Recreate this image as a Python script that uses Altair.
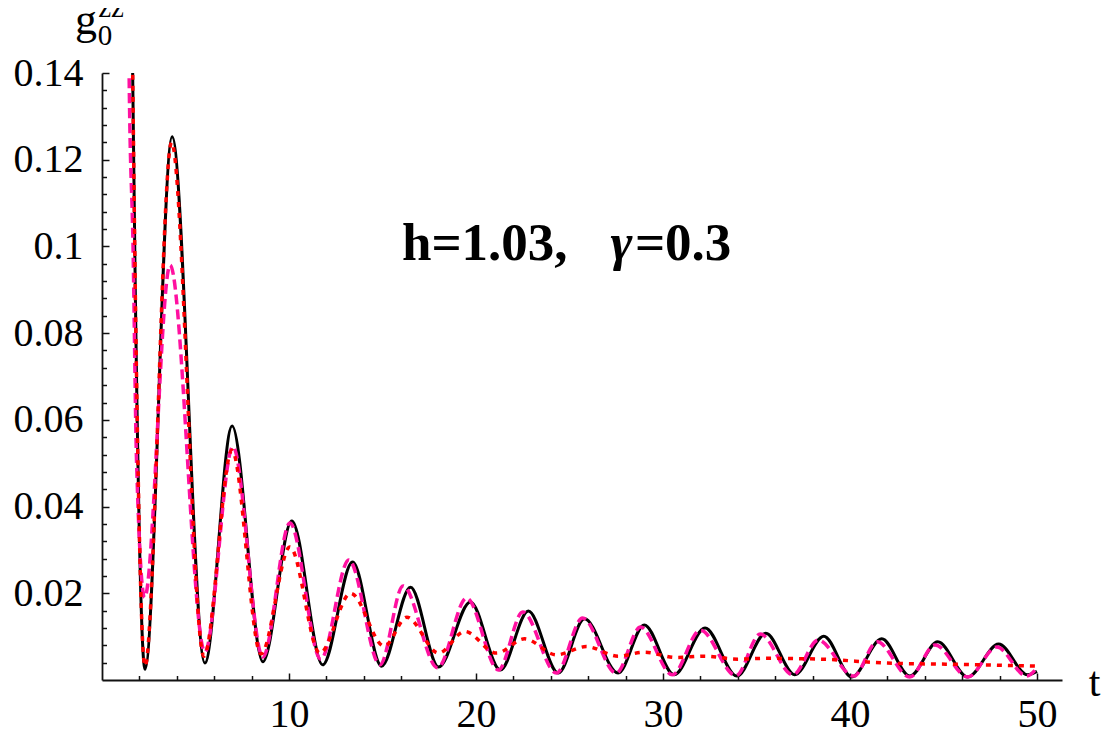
import altair as alt
import pandas as pd

# ---- data ----
# exact (black, solid)
t_exact = [1.55, 1.64, 1.78, 2.3, 3.75, 5.5, 6.96, 8.6, 10.15, 11.8, 13.4, 14.95, 16.5, 18.0,
           19.7, 21.3, 22.8, 24.4, 25.8, 27.6, 29.0, 30.6, 32.25, 33.95, 35.5, 37.05, 38.6,
           40.1, 41.7, 43.2, 44.7, 46.3, 47.95, 49.5, 50.0]
g_exact = [0.17, 0.14, 0.09, 0.0025, 0.1253, 0.0039, 0.0586, 0.0042, 0.0367, 0.0035, 0.0272,
           0.0032, 0.0214, 0.0030, 0.0180, 0.0023, 0.0159, 0.0016, 0.0141, 0.0016, 0.0127,
           0.0012, 0.0120, 0.0009, 0.0108, 0.0012, 0.0101, 0.0007, 0.0095, 0.0009, 0.0088,
           0.0007, 0.0083, 0.0012, 0.0020]

# approximation 1 (magenta, dashed)
t_dash = [1.4, 1.45, 1.66, 1.85, 2.28, 3.64, 5.5, 7.0, 8.6, 10.05, 11.7, 13.2, 14.87, 16.1,
          17.95, 19.5, 21.2, 22.5, 24.3, 25.7, 27.5, 28.8, 30.5, 32.0, 33.9, 35.2, 36.95,
          38.3, 40.2, 41.45, 43.2, 44.55, 46.3, 47.85, 49.45, 50.0]
g_dash = [0.17, 0.14, 0.10, 0.05, 0.019, 0.0957, 0.0065, 0.0538, 0.0053, 0.0362, 0.0048,
          0.0277, 0.0035, 0.0217, 0.0028, 0.0189, 0.0023, 0.0157, 0.0016, 0.0143, 0.0016,
          0.0122, 0.0012, 0.0115, 0.0010, 0.0106, 0.0012, 0.0092, 0.0009, 0.0088, 0.0007,
          0.0081, 0.0007, 0.0076, 0.0009, 0.0028]

# approximation 2 (red, dotted)
t_dot = [1.55, 1.64, 1.78, 2.3, 3.72, 5.45, 6.95, 8.5, 10.05, 11.65, 13.3, 15.1, 16.3, 18.0,
         19.4, 21.1, 22.6, 24.3, 25.9, 27.6, 29.0, 30.7, 32.2, 34.0, 35.5, 38.5, 42.0, 46.0,
         50.0]
g_dot = [0.17, 0.14, 0.09, 0.0032, 0.124, 0.0055, 0.053, 0.006, 0.0307, 0.0062, 0.0200,
         0.0078, 0.0145, 0.0062, 0.0112, 0.0062, 0.0095, 0.0058, 0.0077, 0.0055, 0.0064,
         0.0052, 0.0055, 0.0048, 0.0050, 0.0048, 0.0039, 0.0036, 0.0032]

x_ticks = [2, 4, 6, 8, 10, 12, 14, 16, 18, 20, 22, 24, 26, 28, 30, 32, 34, 36, 38, 40,
           42, 44, 46, 48, 50]
y_ticks = [0.004, 0.008, 0.012, 0.016, 0.02, 0.024, 0.028, 0.032, 0.036, 0.04, 0.044,
           0.048, 0.052, 0.056, 0.06, 0.064, 0.068, 0.072, 0.076, 0.08, 0.084, 0.088,
           0.092, 0.096, 0.1, 0.104, 0.108, 0.112, 0.116, 0.12, 0.124, 0.128, 0.132,
           0.136, 0.14]

x_domain = [0, 51.34]
y_domain = [0, 0.14]

PLOT_W, PLOT_H = 960, 607
FONT = "Liberation Serif"

df_exact = pd.DataFrame({"t": t_exact, "g": g_exact})
df_dash = pd.DataFrame({"t": t_dash, "g": g_dash})
df_dot = pd.DataFrame({"t": t_dot, "g": g_dot})

X_MAJOR = "datum.value % 10 == 0"
Y_MAJOR = "abs(datum.value * 50 - round(datum.value * 50)) < 0.001"

x_axis = alt.Axis(
    orient="top", offset=-PLOT_H, values=x_ticks,
    tickSize={"condition": {"test": X_MAJOR, "value": 7}, "value": 4.5},
    tickWidth=1.5, tickColor="#111", domainColor="#111", domainWidth=1.8, grid=False,
    labelExpr=X_MAJOR + " ? format(datum.value, 'd') : ''",
    labelPadding=-53, labelBaseline="alphabetic", labelFont=FONT, labelFontSize=40,
    labelColor="black", labelOverlap=False, labelFlush=False,
    title="t", titleFont=FONT, titleFontSize=42, titleFontWeight="normal",
    titleColor="black", titleX=992, titleY=15, titleAlign="center",
    titleBaseline="alphabetic", titleAnchor="start",
)
y_axis = alt.Axis(
    orient="right", offset=-PLOT_W, values=y_ticks,
    tickSize={"condition": {"test": Y_MAJOR, "value": 7}, "value": 4.5},
    tickWidth=1.5, tickColor="#111", domainColor="#111", domainWidth=1.8, grid=False,
    labelExpr=Y_MAJOR + " ? format(datum.value, '.2~f') : ''",
    labelPadding=-26, labelAlign="right", labelBaseline="middle", labelFont=FONT,
    labelFontSize=40, labelColor="black", labelOverlap=False, labelFlush=False,
    title=None,
)

x_enc = alt.X("t:Q", scale=alt.Scale(domain=x_domain, nice=False, zero=False), axis=x_axis)
y_enc = alt.Y("g:Q", scale=alt.Scale(domain=y_domain, nice=False, zero=False), axis=y_axis)

line_exact = alt.Chart(df_exact).mark_line(
    color="black", strokeWidth=3, interpolate="monotone", clip=True
).encode(x=x_enc, y=y_enc)

line_dash = alt.Chart(df_dash).mark_line(
    color="#ff10a0", strokeWidth=3.5, strokeDash=[10, 5], interpolate="monotone", clip=True
).encode(x=x_enc, y=y_enc)

line_dot = alt.Chart(df_dot).mark_line(
    color="#ff0000", strokeWidth=3.5, strokeDash=[5, 6], interpolate="monotone", clip=True
).encode(x=x_enc, y=y_enc)

# axis label g_0^zz anchored at the top of the y axis
df_ylab = pd.DataFrame({"t": [0], "g": [0.14]})
g_main = alt.Chart(df_ylab).mark_text(
    text="g", font=FONT, fontSize=44, color="black", align="center",
    baseline="alphabetic", dx=-16, dy=-39
).encode(x=x_enc, y=y_enc)
g_sub = alt.Chart(df_ylab).mark_text(
    text="0", font=FONT, fontSize=29, color="black", align="center",
    baseline="alphabetic", dx=3, dy=-28
).encode(x=x_enc, y=y_enc)
g_sup = alt.Chart(df_ylab).mark_text(
    text="zz", font=FONT, fontSize=29, color="black", align="center",
    baseline="alphabetic", dx=9, dy=-56
).encode(x=x_enc, y=y_enc)

# annotation h=1.03, gamma=0.3
df_a1 = pd.DataFrame({"t": [16.04], "g": [0.0969]})
df_a2 = pd.DataFrame({"t": [27.2], "g": [0.0969]})
df_a3 = pd.DataFrame({"t": [28.5], "g": [0.0969]})
ann1 = alt.Chart(df_a1).mark_text(
    text="h=1.03,", font=FONT, fontSize=53, fontWeight="bold", color="black",
    align="left", baseline="alphabetic"
).encode(x=x_enc, y=y_enc)
ann2 = alt.Chart(df_a2).mark_text(
    text="γ", font=FONT, fontSize=53, fontWeight="bold", fontStyle="italic",
    color="black", align="left", baseline="alphabetic"
).encode(x=x_enc, y=y_enc)
ann3 = alt.Chart(df_a3).mark_text(
    text="=0.3", font=FONT, fontSize=53, fontWeight="bold", color="black",
    align="left", baseline="alphabetic"
).encode(x=x_enc, y=y_enc)

chart = alt.layer(
    line_exact, line_dash, line_dot, g_main, g_sub, g_sup, ann1, ann2, ann3
).properties(
    width=PLOT_W, height=PLOT_H,
    autosize=alt.AutoSizeParams(type="none"),
    padding={"left": 94, "top": 65, "right": 40, "bottom": 47},
    background="white",
).configure_view(stroke=None)

chart.save("out.html", embed_options={"renderer": "svg", "actions": False})
